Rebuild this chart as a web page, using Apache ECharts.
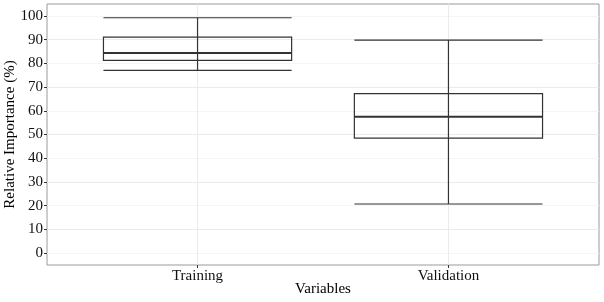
<!DOCTYPE html>
<html>
<head>
<meta charset="utf-8">
<script src="https://cdn.jsdelivr.net/npm/echarts@6/dist/echarts.min.js"></script>
<style>
html,body{margin:0;padding:0;background:#fff;}
#chart{width:604px;height:302px;}
</style>
</head>
<body>
<div id="chart"></div>
<script>
var categories = ['Training', 'Validation'];
var categoryPos = [1, 2];
var whiskerLow = [77.0, 20.7];
var q1 = [81.2, 48.5];
var median = [84.4, 57.5];
var q3 = [91.0, 67.2];
var whiskerHigh = [99.2, 89.8];
var yTickValues = [0, 10, 20, 30, 40, 50, 60, 70, 80, 90, 100];

var boxData = categoryPos.map(function (x, i) {
  return [x, whiskerLow[i], q1[i], median[i], q3[i], whiskerHigh[i]];
});

var chart = echarts.init(document.getElementById('chart'), null, {renderer: 'canvas'});
var FONT = 'Liberation Serif';
var BOXW = 0.75;
var lineColor = '#333333';

chart.setOption({
  animation: false,
  backgroundColor: '#ffffff',
  grid: {left: 47, right: 5, top: 4, bottom: 37, containLabel: false, outerBoundsMode: 'none',
    show: true, borderColor: '#9a9a9a', borderWidth: 1, backgroundColor: 'transparent'},
  xAxis: {
    type: 'value', min: 0.4, max: 2.6, interval: 0.2,
    name: 'Variables', nameLocation: 'middle', nameGap: 17, nameMoveOverlap: false,
    nameTextStyle: {fontFamily: FONT, fontSize: 15, color: '#000'},
    axisLine: {show: false, onZero: false},
    axisTick: {show: true, length: 3, customValues: categoryPos, lineStyle: {color: '#333'}},
    axisLabel: {
      customValues: categoryPos, margin: 4,
      fontFamily: FONT, fontSize: 15, color: '#111',
      formatter: function (v) {
        for (var i = 0; i < categoryPos.length; i++) {
          if (Math.abs(v - categoryPos[i]) < 1e-6) return categories[i];
        }
        return '';
      }
    },
    splitLine: {show: false}
  },
  yAxis: {
    type: 'value', min: -5, max: 105, interval: 5,
    name: 'Relative Importance (%)', nameLocation: 'middle', nameGap: 29, nameMoveOverlap: false,
    nameTextStyle: {fontFamily: FONT, fontSize: 15, color: '#000'},
    axisLine: {show: false, onZero: false},
    axisTick: {show: true, length: 3, customValues: yTickValues, lineStyle: {color: '#333'}},
    axisLabel: {customValues: yTickValues, margin: 4, fontFamily: FONT, fontSize: 15, color: '#111'},
    splitLine: {show: true, lineStyle: {color: ['#f5f5f5', '#ebebeb'], width: 1}}
  },
  series: [
    {
      type: 'custom',
      silent: true,
      z: 1,
      data: categoryPos.map(function (x) { return [x]; }),
      renderItem: function (params, api) {
        var x = api.value(0);
        var p1 = api.coord([x, 105]);
        var p2 = api.coord([x, -5]);
        return {type: 'line', shape: {x1: p1[0], y1: p1[1], x2: p2[0], y2: p2[1]},
          style: {stroke: '#ebebeb', lineWidth: 1}};
      }
    },
    {
      type: 'custom',
      silent: true,
      z: 5,
      data: boxData,
      renderItem: function (params, api) {
        var x = api.value(0);
        var lo = api.value(1), a = api.value(2), m = api.value(3), b = api.value(4), hi = api.value(5);
        var xl = api.coord([x - BOXW / 2, 0])[0];
        var xr = api.coord([x + BOXW / 2, 0])[0];
        var xc = api.coord([x, 0])[0];
        var yLo = api.coord([x, lo])[1];
        var yA = api.coord([x, a])[1];
        var yM = api.coord([x, m])[1];
        var yB = api.coord([x, b])[1];
        var yHi = api.coord([x, hi])[1];
        var st = {stroke: lineColor, lineWidth: 1.2, fill: null};
        return {
          type: 'group',
          children: [
            {type: 'line', shape: {x1: xc, y1: yHi, x2: xc, y2: yLo}, style: st},
            {type: 'line', shape: {x1: xl, y1: yHi, x2: xr, y2: yHi}, style: st},
            {type: 'line', shape: {x1: xl, y1: yLo, x2: xr, y2: yLo}, style: st},
            {type: 'rect', shape: {x: xl, y: yB, width: xr - xl, height: yA - yB}, style: {stroke: lineColor, lineWidth: 1.2, fill: 'none'}},
            {type: 'line', shape: {x1: xl, y1: yM, x2: xr, y2: yM}, style: {stroke: lineColor, lineWidth: 2}}
          ]
        };
      }
    }
  ]
});
</script>
</body>
</html>
